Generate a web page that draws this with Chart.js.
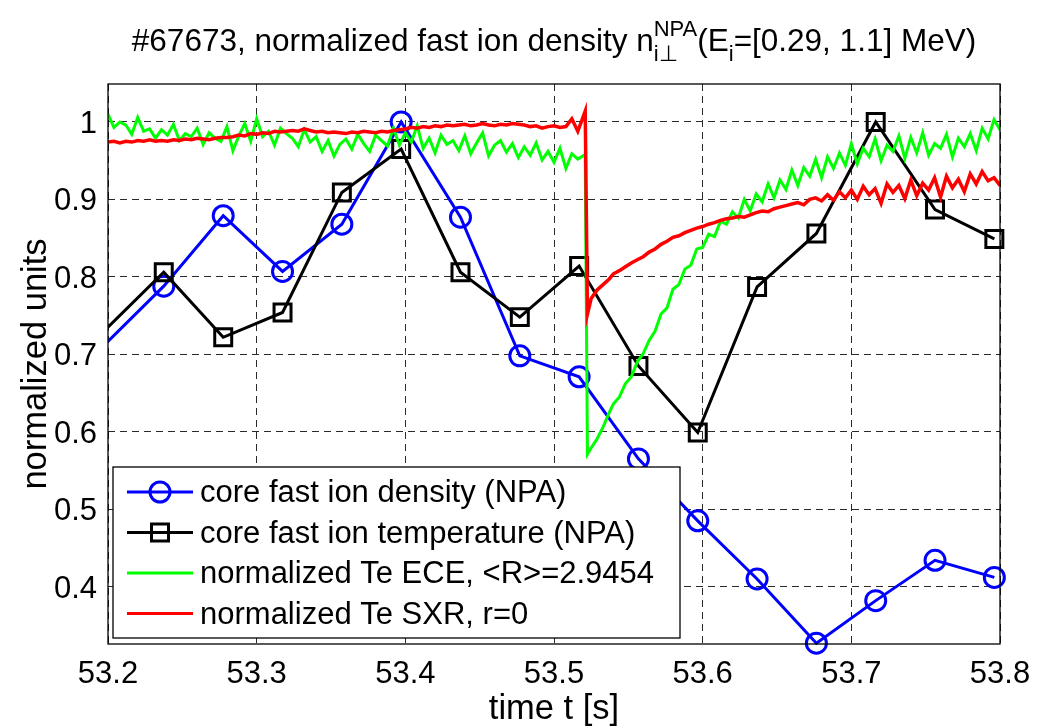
<!DOCTYPE html>
<html>
<head>
<meta charset="utf-8">
<script src="https://cdn.jsdelivr.net/npm/chart.js@4.4.1/dist/chart.umd.min.js"></script>
<style>
  body{margin:0;background:#fff;}
</style>
</head>
<body>
<canvas id="grafica" width="1037" height="727"></canvas>
<script>
// tiempos de las muestras NPA (la primera queda justo fuera del eje)
let tNpa = [53.1976, 53.2375, 53.2775, 53.3174, 53.3573, 53.3972, 53.4371, 53.4770,
            53.5169, 53.5568, 53.5967, 53.6366, 53.6765, 53.7164, 53.7563, 53.7962];
let densNpa = [0.712, 0.788, 0.879, 0.807, 0.868, 1.000, 0.877, 0.698,
               0.671, 0.565, 0.485, 0.410, 0.327, 0.382, 0.434, 0.412];
let tempNpa = [0.7305, 0.806, 0.722, 0.754, 0.909, 0.965, 0.806, 0.748,
               0.814, 0.685, 0.599, 0.787, 0.856, 1.000, 0.887, 0.849];

// ECE y SXR (muestreo rapido)
let tRapido = [
  53.200,53.204,53.208,53.212,53.216,53.220,53.224,53.228,53.232,53.236,
  53.240,53.244,53.248,53.252,53.256,53.260,53.264,53.268,53.272,53.276,
  53.280,53.284,53.288,53.292,53.296,53.300,53.304,53.308,53.312,53.316,
  53.320,53.324,53.328,53.332,53.336,53.340,53.344,53.348,53.352,53.356,
  53.360,53.364,53.368,53.372,53.376,53.380,53.384,53.388,53.392,53.396,
  53.400,53.404,53.408,53.412,53.416,53.420,53.424,53.428,53.432,53.436,
  53.440,53.444,53.448,53.452,53.456,53.460,53.464,53.468,53.472,53.476,
  53.480,53.484,53.488,53.492,53.496,53.500,53.504,53.508,53.512,53.516,
  53.521,53.5225,53.525,53.529,53.533,53.537,
  53.540,53.544,53.548,53.552,53.556,53.560,53.564,53.568,53.572,53.576,
  53.580,53.584,53.588,53.592,53.596,53.600,53.604,53.608,53.612,53.616,
  53.620,53.624,53.628,53.632,53.636,53.640,53.644,53.648,53.652,53.656,
  53.660,53.664,53.668,53.672,53.676,53.680,53.684,53.688,53.692,53.696,
  53.700,53.704,53.708,53.712,53.716,53.720,53.724,53.728,53.732,53.736,
  53.740,53.744,53.748,53.752,53.756,53.760,53.764,53.768,53.772,53.776,
  53.780,53.784,53.788,53.792,53.796,53.800];
let teEce = [
  1.010,0.993,1.000,0.996,0.984,1.006,0.988,0.991,0.979,0.990,
  0.983,0.997,0.976,0.985,0.981,0.992,0.971,0.986,0.979,0.975,
  0.994,0.963,0.982,0.998,0.975,1.004,0.981,0.988,0.970,0.992,
  0.985,0.979,0.968,0.990,0.974,0.981,0.962,0.976,0.956,0.971,
  0.978,0.965,0.984,0.972,0.962,0.983,0.976,0.969,0.992,0.970,
  0.986,0.974,0.995,0.966,0.979,0.960,0.983,0.971,0.976,0.963,
  0.982,0.959,0.973,0.986,0.956,0.970,0.976,0.961,0.972,0.954,
  0.968,0.957,0.973,0.951,0.962,0.948,0.966,0.940,0.959,0.952,
  0.958,0.571,0.579,0.591,0.606,0.624,
  0.636,0.645,0.662,0.671,0.690,0.701,0.718,0.730,0.752,0.760,
  0.784,0.790,0.810,0.815,0.836,0.838,0.855,0.852,0.872,0.868,
  0.884,0.876,0.900,0.885,0.907,0.897,0.920,0.902,0.925,0.913,
  0.938,0.918,0.941,0.930,0.952,0.928,0.955,0.940,0.960,0.944,
  0.972,0.946,0.966,0.955,0.978,0.950,0.970,0.962,0.982,0.953,
  0.980,0.960,0.986,0.957,0.972,0.966,0.984,0.955,0.979,0.968,
  0.985,0.963,0.992,0.978,1.003,0.990];
let teSxr = [
  0.974,0.975,0.973,0.975,0.974,0.976,0.975,0.977,0.975,0.976,
  0.975,0.977,0.976,0.978,0.977,0.979,0.978,0.977,0.979,0.980,
  0.980,0.981,0.983,0.982,0.985,0.984,0.986,0.985,0.988,0.987,
  0.988,0.989,0.988,0.991,0.989,0.987,0.988,0.986,0.987,0.986,
  0.985,0.987,0.986,0.988,0.987,0.986,0.988,0.987,0.989,0.990,
  0.991,0.993,0.992,0.994,0.993,0.995,0.994,0.996,0.995,0.996,
  0.997,0.995,0.996,0.998,0.996,0.995,0.997,0.996,0.998,0.997,
  0.996,0.994,0.995,0.992,0.994,0.995,0.993,0.994,1.004,0.988,
  1.014,0.752,0.772,0.783,0.790,0.797,
  0.804,0.808,0.813,0.818,0.822,0.826,0.832,0.836,0.842,0.846,
  0.851,0.853,0.857,0.860,0.863,0.865,0.868,0.870,0.873,0.875,
  0.876,0.878,0.877,0.880,0.883,0.885,0.884,0.888,0.890,0.892,
  0.894,0.896,0.893,0.900,0.902,0.898,0.906,0.899,0.910,0.902,
  0.912,0.900,0.917,0.906,0.914,0.895,0.920,0.909,0.918,0.901,
  0.925,0.905,0.921,0.912,0.928,0.903,0.930,0.915,0.926,0.910,
  0.933,0.920,0.936,0.924,0.928,0.918];

let ticksX = [53.2, 53.3, 53.4, 53.5, 53.6, 53.7, 53.8];
let etiquetasX = ['53.2', '53.3', '53.4', '53.5', '53.6', '53.7', '53.8'];
let ticksY = [0.4, 0.5, 0.6, 0.7, 0.8, 0.9, 1];
let etiquetasY = ['0.4', '0.5', '0.6', '0.7', '0.8', '0.9', '1'];
let nombres = ['core fast ion density (NPA)', 'core fast ion temperature (NPA)',
               'normalized Te ECE, <R>=2.9454', 'normalized Te SXR, r=0'];

const fuente = '"Liberation Sans", Arial, Helvetica, sans-serif';

function pares(tt, vv){
    return tt.map((t, i) => ({x: t, y: vv[i]}));
}

function escribir(ctx, txt, x, y, tam, alin){
    ctx.font = tam + 'px ' + fuente;
    ctx.textAlign = alin || 'left';
    ctx.textBaseline = 'alphabetic';
    ctx.fillText(txt, x, y);
    return ctx.measureText(txt).width;
}

function ancho(ctx, txt, tam){
    ctx.font = tam + 'px ' + fuente;
    return ctx.measureText(txt).width;
}

function marcador(ctx, tipo, x, y, color){
    ctx.strokeStyle = color;
    ctx.lineWidth = 3;
    ctx.beginPath();
    if (tipo == 'circle'){
        ctx.arc(x, y, 10, 0, Math.PI * 2);
    } else {
        ctx.rect(x - 8.5, y - 8.5, 17, 17);
    }
    ctx.stroke();
}

const marcoMatlab = {
    id: 'marcoMatlab',
    afterDraw(chart){
        const ctx = chart.ctx;
        const a = chart.chartArea;
        const sx = chart.scales.x;
        const sy = chart.scales.y;
        ctx.save();

        // caja de los ejes
        ctx.strokeStyle = '#000';
        ctx.lineWidth = 1.3;
        ctx.strokeRect(a.left, a.top, a.right - a.left, a.bottom - a.top);

        // etiquetas de los ticks
        ctx.fillStyle = '#000';
        ticksX.forEach((v, i) => escribir(ctx, etiquetasX[i], sx.getPixelForValue(v), a.bottom + 39, 31, 'center'));
        ticksY.forEach((v, i) => escribir(ctx, etiquetasY[i], a.left - 11, sy.getPixelForValue(v) + 11, 31, 'right'));

        // titulos de ejes
        escribir(ctx, 'time t [s]', (a.left + a.right) / 2, 719, 34.5, 'center');
        ctx.save();
        ctx.translate(46, (a.top + a.bottom) / 2);
        ctx.rotate(-Math.PI / 2);
        escribir(ctx, 'normalized units', 0, 0, 34.5, 'center');
        ctx.restore();

        // titulo con super y subindices
        const S = 31.5, s = 22;
        let p1 = '#67673, normalized fast ion density n';
        let p3 = '(E';
        let p5 = '=[0.29, 1.1] MeV)';
        let w1 = ancho(ctx, p1, S);
        let wSup = Math.max(ancho(ctx, 'NPA', s), ancho(ctx, 'i\u22A5', s));
        let w3 = ancho(ctx, p3, S);
        let wi = ancho(ctx, 'i', s);
        let w5 = ancho(ctx, p5, S);
        let total = w1 + wSup + w3 + wi + w5;
        let x = (a.left + a.right) / 2 - total / 2;
        let base = 51;
        escribir(ctx, p1, x, base, S);
        x += w1;
        escribir(ctx, 'NPA', x, base - 15, s);
        escribir(ctx, 'i\u22A5', x, base + 10, s);
        x += wSup;
        escribir(ctx, p3, x, base, S);
        x += w3;
        escribir(ctx, 'i', x, base + 10, s);
        x += wi;
        escribir(ctx, p5, x, base, S);

        // leyenda
        const caja = {x: 113, y: 467, w: 567, h: 171};
        ctx.fillStyle = '#fff';
        ctx.fillRect(caja.x, caja.y, caja.w, caja.h);
        ctx.strokeStyle = '#000';
        ctx.lineWidth = 1.3;
        ctx.strokeRect(caja.x, caja.y, caja.w, caja.h);
        const orden = [3, 2, 1, 0];
        orden.forEach((k, i) => {
            const ds = chart.data.datasets[k];
            const yy = caja.y + 25 + i * 40.5;
            ctx.strokeStyle = ds.borderColor;
            ctx.lineWidth = 3;
            ctx.beginPath();
            ctx.moveTo(caja.x + 14, yy);
            ctx.lineTo(caja.x + 80, yy);
            ctx.stroke();
            if (ds.pointStyle){
                marcador(ctx, ds.pointStyle, caja.x + 47, yy, ds.borderColor);
            }
            ctx.fillStyle = '#000';
            escribir(ctx, nombres[i], caja.x + 87, yy + 10, 31);
        });

        ctx.restore();
    }
};

const grid = {color: '#2a2a2a', lineWidth: 1, drawTicks: false};

new Chart(document.getElementById('grafica'), {
    type: 'line',
    data: {
        datasets: [
            {
                label: nombres[3],
                data: pares(tRapido, teSxr),
                borderColor: '#ff0000',
                borderWidth: 3.5,
                pointRadius: 0,
                order: 1
            },
            {
                label: nombres[2],
                data: pares(tRapido, teEce),
                borderColor: '#00ff00',
                borderWidth: 3,
                pointRadius: 0,
                order: 2
            },
            {
                label: nombres[1],
                data: pares(tNpa, tempNpa),
                borderColor: '#000000',
                borderWidth: 3,
                pointStyle: 'rect',
                pointRadius: tNpa.map((t, i) => i == 0 ? 0 : 12),
                pointBorderWidth: 3,
                pointBackgroundColor: 'rgba(0,0,0,0)',
                clip: {left: 0, top: 20, right: 20, bottom: 20},
                order: 3
            },
            {
                label: nombres[0],
                data: pares(tNpa, densNpa),
                borderColor: '#0000ff',
                borderWidth: 3,
                pointStyle: 'circle',
                pointRadius: tNpa.map((t, i) => i == 0 ? 0 : 10),
                pointBorderWidth: 3,
                pointBackgroundColor: 'rgba(0,0,0,0)',
                clip: {left: 0, top: 20, right: 20, bottom: 20},
                order: 4
            }
        ]
    },
    options: {
        responsive: false,
        animation: false,
        events: [],
        layout: {padding: {left: 108, top: 84, right: 37, bottom: 83}},
        elements: {line: {tension: 0}},
        plugins: {
            legend: {display: false},
            tooltip: {enabled: false},
            title: {display: false}
        },
        scales: {
            x: {
                type: 'linear',
                min: 53.2,
                max: 53.8,
                afterBuildTicks: s => { s.ticks = ticksX.map(v => ({value: v})); },
                ticks: {display: false},
                grid: grid,
                border: {display: false, dash: [7, 5]}
            },
            y: {
                type: 'linear',
                min: 0.326,
                max: 1.049,
                afterBuildTicks: s => { s.ticks = ticksY.map(v => ({value: v})); },
                ticks: {display: false},
                grid: grid,
                border: {display: false, dash: [7, 5]}
            }
        }
    },
    plugins: [marcoMatlab]
});
</script>
</body>
</html>
